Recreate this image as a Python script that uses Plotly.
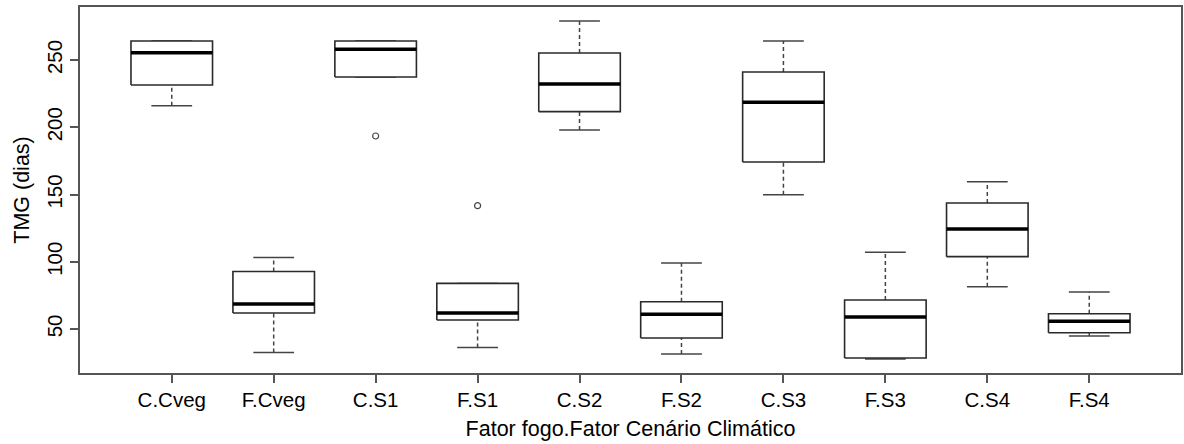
import plotly.graph_objects as go

categories = ["C.Cveg", "F.Cveg", "C.S1", "F.S1", "C.S2", "F.S2", "C.S3", "F.S3", "C.S4", "F.S4"]
lower_whisker = [216.0, 32.6, 237.4, 36.3, 198.0, 31.4, 149.9, 27.7, 81.4, 44.8]
q1 = [231.4, 61.9, 237.4, 56.7, 211.6, 43.3, 174.2, 28.4, 103.8, 47.2]
median = [255.4, 68.6, 257.9, 61.9, 232.2, 60.9, 218.5, 58.9, 124.3, 55.7]
q3 = [264.1, 92.8, 264.1, 83.9, 255.2, 70.3, 241.1, 71.6, 143.7, 61.4]
upper_whisker = [264.1, 103.2, 264.1, 83.9, 279.0, 99.1, 264.1, 107.0, 159.5, 77.5]
outlier_cat = ["C.S1", "F.S1"]
outlier_val = [193.5, 141.7]
y_ticks = [50, 100, 150, 200, 250]

positions = list(range(1, len(categories) + 1))
half_box = 0.4
half_cap = 0.2

box_x, box_y = [], []
med_x, med_y = [], []
wh_x, wh_y = [], []
cap_x, cap_y = [], []
for p, lo, a, m, b, hi in zip(positions, lower_whisker, q1, median, q3, upper_whisker):
    box_x += [p - half_box, p + half_box, p + half_box, p - half_box, p - half_box, None]
    box_y += [a, a, b, b, a, None]
    med_x += [p - half_box, p + half_box, None]
    med_y += [m, m, None]
    if hi > b:
        wh_x += [p, p, None]
        wh_y += [b, hi, None]
    if lo < a:
        wh_x += [p, p, None]
        wh_y += [lo, a, None]
    cap_x += [p - half_cap, p + half_cap, None, p - half_cap, p + half_cap, None]
    cap_y += [hi, hi, None, lo, lo, None]

fig = go.Figure()
fig.add_trace(go.Scatter(x=wh_x, y=wh_y, mode="lines",
                         line=dict(color="#444444", width=1.5, dash="4px,3px"), hoverinfo="skip"))
fig.add_trace(go.Scatter(x=cap_x, y=cap_y, mode="lines",
                         line=dict(color="#444444", width=1.5), hoverinfo="skip"))
fig.add_trace(go.Scatter(x=box_x, y=box_y, mode="lines", fill="toself", fillcolor="white",
                         line=dict(color="#2a2a2a", width=1.6), hoverinfo="skip"))
fig.add_trace(go.Scatter(x=med_x, y=med_y, mode="lines",
                         line=dict(color="black", width=3.5), hoverinfo="skip"))
fig.add_trace(go.Scatter(x=[categories.index(c) + 1 for c in outlier_cat], y=outlier_val,
                         mode="markers",
                         marker=dict(symbol="circle-open", size=6, color="#444444", line=dict(width=1.2))))

font = dict(family="Liberation Sans, Arial, sans-serif", size=20.5, color="black")
title_font = dict(family="Liberation Sans, Arial, sans-serif", size=21.5, color="black")

fig.update_layout(
    width=1184, height=444,
    margin=dict(l=80, r=1, t=7, b=71),
    plot_bgcolor="white", paper_bgcolor="white",
    showlegend=False,
    font=font,
    xaxis=dict(range=[0.1, 10.9], tickmode="array", tickvals=positions, ticktext=categories,
               showgrid=False, zeroline=False, showline=True, mirror=True,
               linecolor="#555555", linewidth=1.5,
               ticks="outside", ticklen=8, tickwidth=1.5, tickcolor="#555555",
               tickfont=font,
               title=dict(text="Fator fogo.Fator Cenário Climático", standoff=11, font=title_font)),
    yaxis=dict(range=[17.3, 289.4], tickmode="array", tickvals=y_ticks,
               showgrid=False, zeroline=False, showline=True, mirror=True,
               linecolor="#555555", linewidth=1.5,
               ticks="outside", ticklen=8, tickwidth=1.5, tickcolor="#555555",
               tickangle=-90, tickfont=font,
               title=dict(text="TMG (dias)", standoff=8, font=title_font)),
)

fig.write_html("out.html")
